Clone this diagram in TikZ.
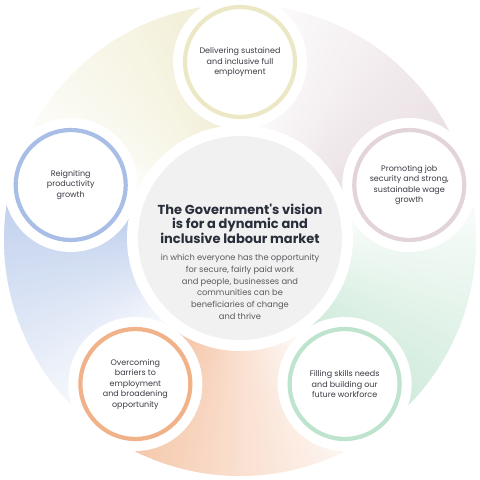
\documentclass[tikz,border=0pt]{standalone}
\usepackage{fontspec}
\setmainfont{Poppins}
\definecolor{blueC}{HTML}{A8BEE6}
\definecolor{orangeC}{HTML}{F1B189}
\definecolor{greenC}{HTML}{BEE3CE}
\definecolor{mauveC}{HTML}{E2D4DA}
\definecolor{yellowC}{HTML}{ECE8C5}
\definecolor{greyFill}{HTML}{F1F1F1}
\definecolor{titleText}{HTML}{2A2E3B}
\definecolor{bodyText}{HTML}{5B5B60}
\definecolor{smallText}{HTML}{3A3A44}
\begin{document}
\begin{tikzpicture}[x=1pt,y=1pt,
  goal/.style={circle, draw=#1, line width=4.2pt, fill=white, minimum size=110pt,
    inner sep=0pt, align=center, text=smallText,
    font=\fontsize{8}{10.5}\selectfont,
    preaction={draw=white, line width=24pt}},
  hub/.style={circle, fill=greyFill, minimum size=204pt, inner sep=0pt,
    preaction={draw=white, line width=22pt}},
  titletext/.style={align=center, text=titleText, font=\fontsize{13}{14.5}\selectfont\bfseries},
  bodytext/.style={align=center, text=bodyText, font=\fontsize{8.3}{11.7}\selectfont}
]
\useasboundingbox (-240,-240) rectangle (240,240);
% ring segments with angular fade
\foreach \a/\c in {162/blueC, 234/orangeC, 306/greenC, 18/mauveC, 90/yellowC} {
  \foreach \i in {0,...,71} {
    \pgfmathsetmacro\p{80-80*\i/72}
    \fill[\c!\p!white] (0,0) -- (\a+\i:236) arc[start angle=\a+\i, end angle=\a+\i+1.4, radius=236] -- cycle;
  }
}
% centre
\node[hub] (vision) at (0,2) {};
\node[titletext] (title) at (0,16.5) {The Government\textquotesingle s vision\\is for a dynamic and\\inclusive labour market};
\node[bodytext] (body) at (0,-47) {in which everyone has the opportunity\\for secure, fairly paid work\\and people, businesses and\\communities can be\\beneficiaries of change\\and thrive};
% goals
\node[goal=yellowC] (full) at (90:178) {Delivering sustained\\and inclusive full\\employment};
\node[goal=mauveC] (wage) at (18:178) {Promoting job\\security and strong,\\sustainable wage\\growth};
\node[goal=greenC] (skills) at (306:178) {Filling skills needs\\and building our\\future workforce};
\node[goal=orangeC] (barriers) at (234:178) {Overcoming\\barriers to\\employment\\and broadening\\opportunity};
\node[goal=blueC] (prod) at (162:178) {Reigniting\\productivity\\growth};
\end{tikzpicture}
\end{document}
